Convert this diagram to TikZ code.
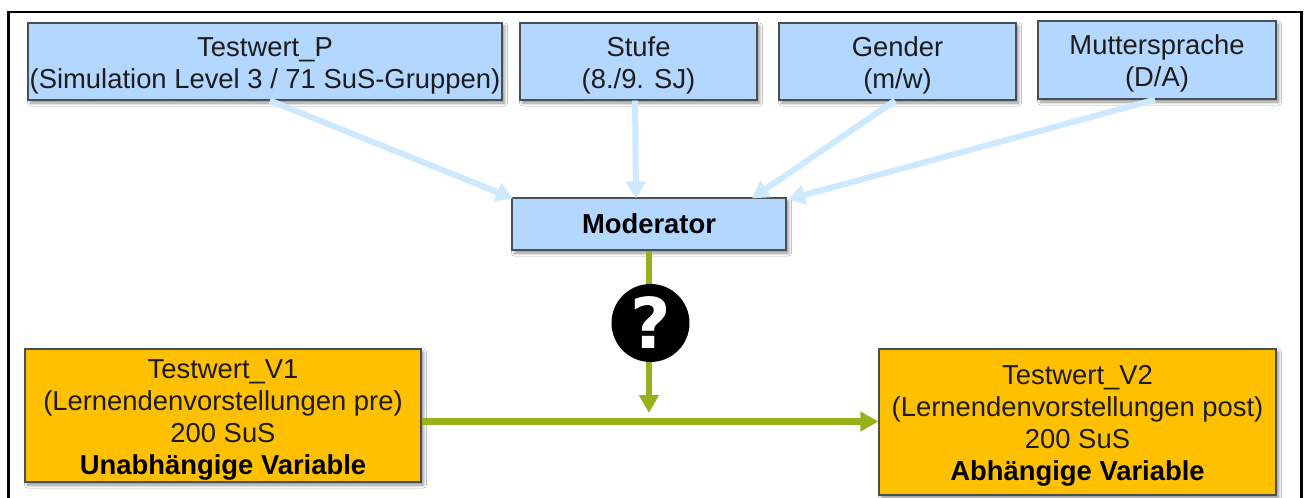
\documentclass[tikz,border=0pt]{standalone}
\usepackage{fontspec}
\setmainfont{Liberation Sans}
\newfontfamily\qfont{DejaVu Sans}
\usetikzlibrary{arrows.meta,shadows.blur,positioning}
\definecolor{boxblue}{HTML}{B3D7FF}
\definecolor{boxorange}{HTML}{FFC000}
\definecolor{arrowblue}{HTML}{CCE9FF}
\definecolor{arrowgreen}{HTML}{98B01C}
\definecolor{edgegray}{HTML}{4A4F55}
\definecolor{inkdark}{HTML}{1C1C1C}
\newcommand{\lowerfirst}{\rule{0pt}{27pt}}
\tikzset{
  varbox/.style={draw=edgegray,line width=1.2pt,align=center,inner sep=0pt,text=inkdark,
    font=\fontsize{27.4}{32}\selectfont,
    blur shadow={shadow xshift=2.5pt,shadow yshift=-3pt,shadow blur radius=3pt,shadow blur steps=6,shadow opacity=45}},
  bluebox/.style={varbox,fill=boxblue},
  orangebox/.style={varbox,fill=boxorange},
  bluearrow/.style={draw=arrowblue,line width=6pt,-{Triangle[length=17pt,width=19pt]}},
  greenarrow/.style={draw=arrowgreen,line width=6.5pt,-{Triangle[length=18pt,width=19pt]}},
  boldlabel/.style={font=\fontsize{27.4}{32}\selectfont\bfseries,text=black}
}
\begin{document}
\begin{tikzpicture}[x=1pt,y=-1pt]
\useasboundingbox[fill=white] (0,0) rectangle (1307,498);
\draw[black,line width=2.6pt] (8.5,498) -- (8.5,12) -- (1301.5,12) -- (1301.5,498);

\node[bluebox,minimum width=474pt,minimum height=77pt] (P) at (265,61.5)
  {\lowerfirst Testwert\_P\\(Simulation Level 3 / 71 SuS-Gruppen)};
\node[bluebox,minimum width=237pt,minimum height=77pt] (S) at (638.5,61.5)
  {\lowerfirst Stufe\\(8./9. SJ)};
\node[bluebox,minimum width=237pt,minimum height=77pt] (G) at (897.5,61.5)
  {\lowerfirst Gender\\(m/w)};
\node[bluebox,minimum width=238pt,minimum height=78pt] (M) at (1157,60)
  {\lowerfirst Muttersprache\\(D/A)};
\node[bluebox,boldlabel,minimum width=274pt,minimum height=52pt] (Mod) at (649,224)
  {Moderator};
\node[orangebox,minimum width=396pt,minimum height=133pt] (V1) at (223,415.5)
  {\lowerfirst Testwert\_V1\\(Lernendenvorstellungen pre)\\200 SuS\\{\bfseries\color{black}Unabhängige Variable}};
\node[orangebox,minimum width=397pt,minimum height=146pt] (V2) at (1077.5,422)
  {\lowerfirst Testwert\_V2\\(Lernendenvorstellungen post)\\200 SuS\\{\bfseries\color{black}Abhängige Variable}};

\draw[bluearrow] ([xshift=5pt]P.south) -- ([xshift=-136pt,yshift=-1pt]Mod.north);
\draw[bluearrow] ([xshift=-3.5pt]S.south) -- ([xshift=-13pt,yshift=-1pt]Mod.north);
\draw[bluearrow] ([xshift=-2.5pt]G.south) -- ([xshift=103pt,yshift=-1pt]Mod.north);
\draw[bluearrow] ([xshift=-2pt]M.south) -- ([xshift=139pt,yshift=-2pt]Mod.north);

\coordinate (J) at (649,413);
\draw[greenarrow] (Mod.south) -- (J);
\draw[greenarrow] (V1.east |- 0,421.5) -- (V2.west |- 0,421.5);

\node[circle,fill=black,minimum size=78pt,inner sep=0pt,text=white,
  font=\qfont\fontsize{70}{70}\selectfont\bfseries] (Q) at (650.5,323) {?};
\end{tikzpicture}
\end{document}
